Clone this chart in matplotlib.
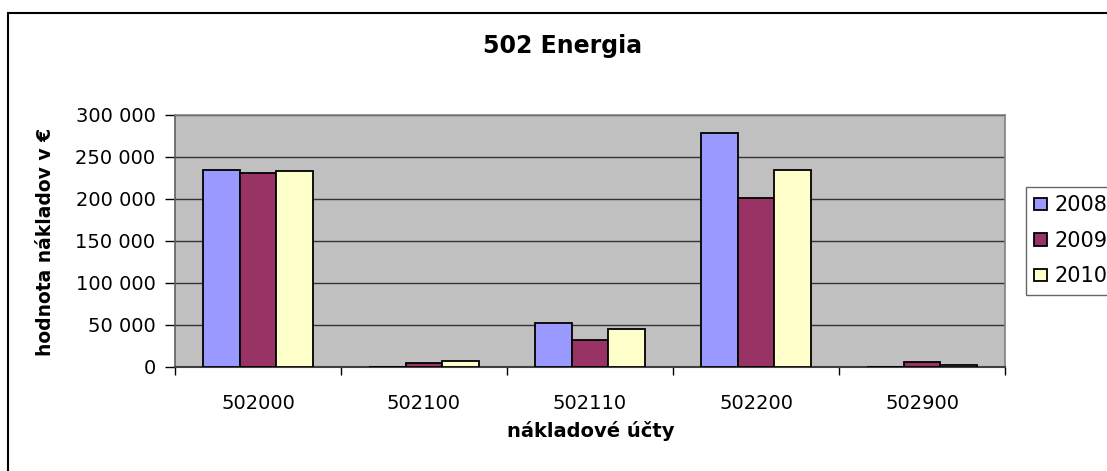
import matplotlib.pyplot as plt
from matplotlib.patches import Rectangle
from matplotlib.ticker import FuncFormatter
import numpy as np

plt.rcParams['font.family'] = ['DejaVu Sans']

accounts = ['502000', '502100', '502110', '502200', '502900']
years = ['2008', '2009', '2010']
v2008 = [234500, 0, 52400, 278500, 0]
v2009 = [230000, 4400, 32000, 200400, 5900]
v2010 = [232500, 6300, 44400, 234500, 2000]
colors = ['#9999FF', '#993366', '#FFFFCC']

fig = plt.figure(figsize=(11.07, 4.71), dpi=100)
fig.patches.append(Rectangle((7.5 / 1107, -0.1), 1.2, 1.1 - 12.5 / 471,
                             transform=fig.transFigure, fill=False,
                             edgecolor='black', linewidth=1.5))

ax = fig.add_axes([175 / 1107, 1 - 366.7 / 471, 830 / 1107, 252 / 471])
ax.set_facecolor('#C0C0C0')

x = np.arange(len(accounts))
w = 1 / 4.5
for i, (vals, c, yr) in enumerate(zip([v2008, v2009, v2010], colors, years)):
    ax.bar(x + (i - 1) * w, vals, w, color=c, edgecolor='black',
           linewidth=1.3, label=yr, zorder=3)

ax.set_xlim(-0.5, len(accounts) - 0.5)
ax.set_ylim(0, 300000)
ax.set_yticks(np.arange(0, 300001, 50000))
ax.yaxis.set_major_formatter(FuncFormatter(lambda v, p: f'{int(v):,}'.replace(',', ' ')))
ax.grid(axis='y', color='#333333', linewidth=1, zorder=1)

ax.set_xticks(x)
ax.set_xticklabels(accounts)
ax.set_xticks(np.arange(-0.5, len(accounts)), minor=True)
ax.tick_params(axis='x', which='major', length=0, pad=20, labelsize=14)
ax.tick_params(axis='x', which='minor', length=6, width=1, color='black')
ax.tick_params(axis='y', length=7, width=1, color='black', labelsize=14, pad=7)

for s in ['top', 'right']:
    ax.spines[s].set_color('#808080')
    ax.spines[s].set_linewidth(1.2)
ax.spines['left'].set_color('#606060')
ax.spines['bottom'].set_color('#404040')
ax.spines['left'].set_linewidth(1.2)
ax.spines['bottom'].set_linewidth(1.5)

fig.text(563 / 1107, 1 - 46 / 471, '502 Energia', ha='center', va='center',
         fontsize=17, fontweight='bold')
fig.text(591 / 1107, 1 - 431 / 471, 'nákladové účty', ha='center', va='center',
         fontsize=14, fontweight='bold')
fig.text(45.5 / 1107, 1 - 242 / 471, 'hodnota nákladov v €', ha='center', va='center',
         rotation=90, fontsize=13.5, fontweight='bold')

leg = ax.legend(loc='upper left', bbox_to_anchor=(1026 / 1107, 1 - 187 / 471),
                bbox_transform=fig.transFigure, fontsize=15, frameon=True,
                fancybox=False, edgecolor='#404040', handlelength=0.62,
                handleheight=0.53, handletextpad=0.35, labelspacing=0.74,
                borderpad=0.4, borderaxespad=0)
leg.get_frame().set_linewidth(1)

fig.savefig('out.png', dpi=100)
